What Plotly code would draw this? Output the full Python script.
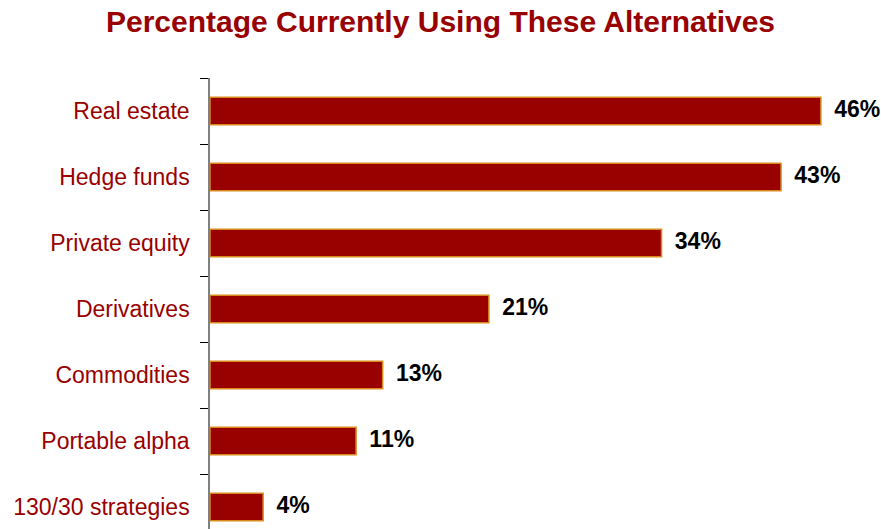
import plotly.graph_objects as go

categories = ["Real estate", "Hedge funds", "Private equity", "Derivatives",
              "Commodities", "Portable alpha", "130/30 strategies"]
values = [46, 43, 34, 21, 13, 11, 4]
labels = [f"{v}%" for v in values]

fig = go.Figure()
fig.add_trace(go.Bar(
    x=values, y=categories, orientation="h", width=0.42,
    marker=dict(color="#990000", line=dict(color="#D98A1E", width=1.5)),
    hoverinfo="skip",
))
fig.add_trace(go.Scatter(
    x=[v + 1.0 for v in values], y=categories, mode="text",
    text=labels, textposition="middle right", cliponaxis=False,
    textfont=dict(family="Liberation Sans, Arial, sans-serif", size=23, color="black", weight="bold"),
    hoverinfo="skip",
))

fig.update_layout(
    width=881, height=529,
    margin=dict(l=210, r=0, t=78, b=0),
    plot_bgcolor="white", paper_bgcolor="white",
    showlegend=False,
    title=dict(text="<b>Percentage Currently Using These Alternatives</b>",
               x=0.5, xanchor="center", y=1 - 21 / 529, yanchor="middle", yref="container",
               font=dict(family="Liberation Sans, Arial, sans-serif", size=30, color="#990000")),
    xaxis=dict(range=[0, 671 / 13.28], visible=False),
    yaxis=dict(
        type="category", categoryorder="array", categoryarray=categories,
        range=[-0.5 + 451 / 66, -0.5],
        showline=True, linecolor="#808080", linewidth=1.5,
        ticks="outside", tickson="boundaries", ticklen=8, tickcolor="black", tickwidth=1,
        ticklabelstandoff=14,
        showgrid=False, zeroline=False,
        tickfont=dict(family="Liberation Sans, Arial, sans-serif", size=23, color="#990000"),
    ),
)

fig.write_html("out.html")
